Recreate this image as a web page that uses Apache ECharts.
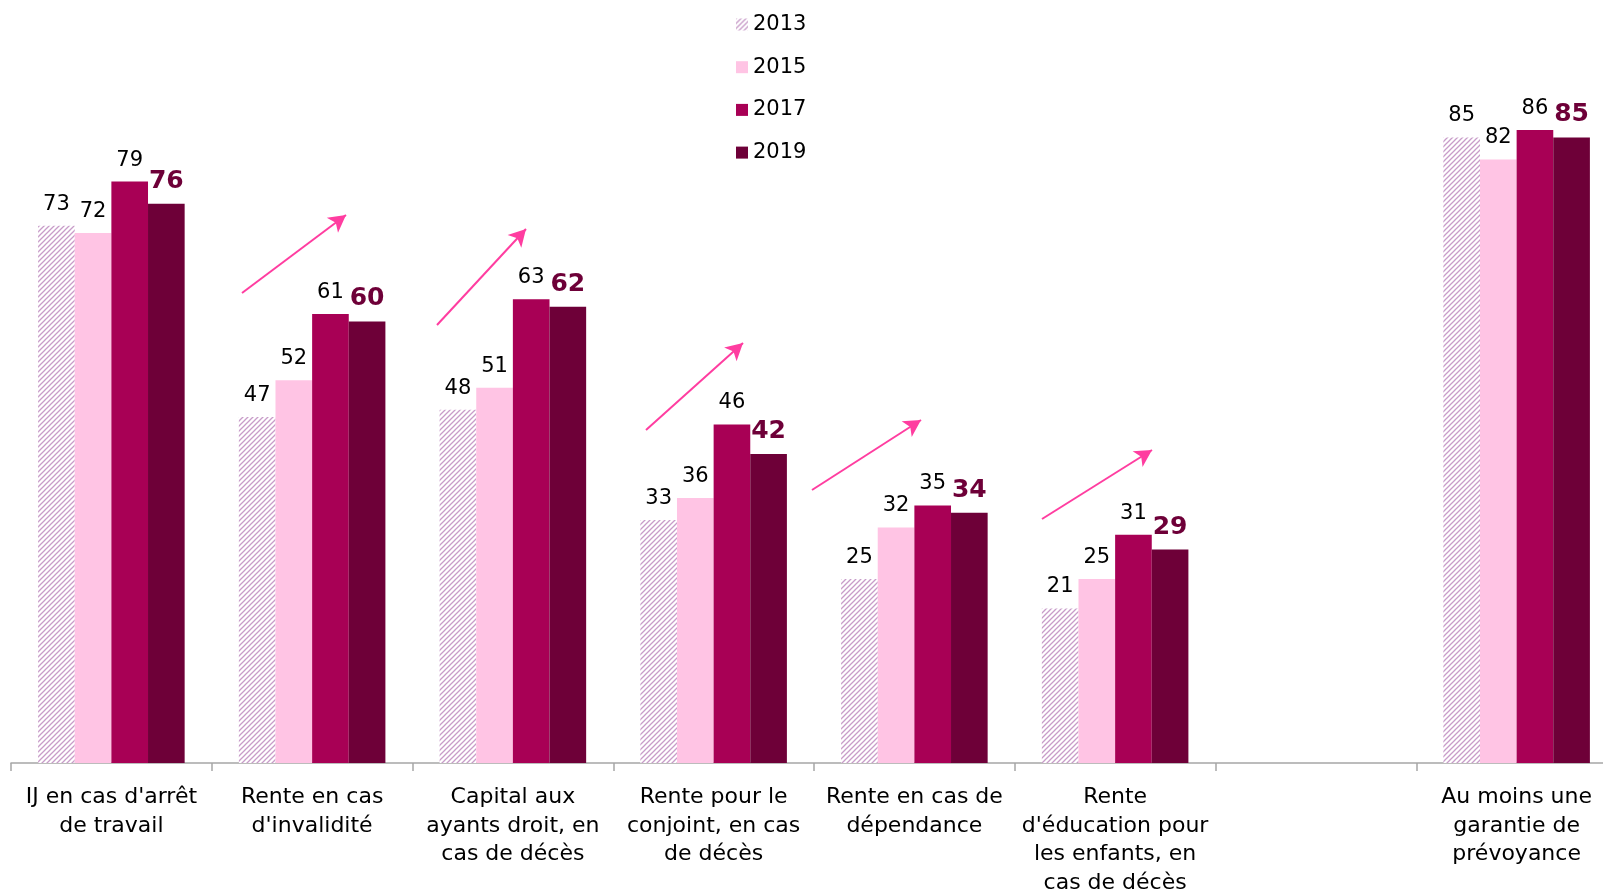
<!DOCTYPE html>
<html>
<head>
<meta charset="utf-8">
<script src="https://cdn.jsdelivr.net/npm/echarts@6/dist/echarts.min.js"></script>
<style>
  html, body { margin: 0; padding: 0; background: #fff; }
  #main { width: 1603px; height: 889px; }
</style>
</head>
<body>
<div id="main"></div>
<script>
var categories = [
    "IJ en cas d'arrêt\nde travail",
    "Rente en cas\nd'invalidité",
    "Capital aux\nayants droit, en\ncas de décès",
    "Rente pour le\nconjoint, en cas\nde décès",
    "Rente en cas de\ndépendance",
    "Rente\nd'éducation pour\nles enfants, en\ncas de décès",
    "",
    "Au moins une\ngarantie de\nprévoyance"
];
var years = ['2013', '2015', '2017', '2019'];
var v2013 = [73, 47, 48, 33, 25, 21, null, 85];
var v2015 = [72, 52, 51, 36, 32, 25, null, 82];
var v2017 = [79, 61, 63, 46, 35, 31, null, 86];
var v2019 = [76, 60, 62, 42, 34, 29, null, 85];
// flèches de tendance (pixels)
var arrows = [
    [[242, 293], [346, 215]],
    [[437, 325], [526, 229]],
    [[646, 430], [743, 343]],
    [[812, 490], [921, 420]],
    [[1042, 519], [1152, 450]]
];

var font = "Verdana, 'DejaVu Sans', sans-serif";

// motif hachuré pour 2013
function hatch() {
    var s = 5;
    var c = document.createElement('canvas');
    c.width = s; c.height = s;
    var ctx = c.getContext('2d');
    ctx.fillStyle = '#fff';
    ctx.fillRect(0, 0, s, s);
    ctx.strokeStyle = '#C89CC9';
    ctx.lineWidth = 1.3;
    ctx.beginPath();
    ctx.moveTo(-1, s + 1); ctx.lineTo(s + 1, -1);
    ctx.moveTo(-1, 1); ctx.lineTo(1, -1);
    ctx.moveTo(s - 1, s + 1); ctx.lineTo(s + 1, s - 1);
    ctx.stroke();
    return { image: c, repeat: 'repeat' };
}

var myChart = echarts.init(document.getElementById('main'));

function serie(name, data, color, bold) {
    return {
        name: name,
        type: 'bar',
        data: data,
        barGap: '0%',
        barCategoryGap: '27%',
        itemStyle: { color: color },
        label: {
            show: true,
            position: 'top',
            distance: bold ? 10 : 11,
            fontFamily: font,
            fontSize: bold ? 25 : 21,
            fontWeight: bold ? 'bold' : 'normal',
            color: bold ? '#6E0038' : '#000'
        }
    };
}

var series = [
    serie(years[0], v2013, hatch(), false),
    serie(years[1], v2015, '#FFC4E4', false),
    serie(years[2], v2017, '#A80055', false),
    serie(years[3], v2019, '#6E0038', true)
];
series[3].markLine = {
    silent: true,
    symbol: ['none', 'arrow'],
    symbolSize: [14, 17],
    label: { show: false },
    lineStyle: { color: '#FF3DA0', width: 2, type: 'solid' },
    animation: false,
    data: arrows.map(function (a) {
        return [{ x: a[0][0], y: a[0][1] }, { x: a[1][0], y: a[1][1] }];
    })
};

var option = {
    animation: false,
    textStyle: { fontFamily: font },
    legend: {
        data: years,
        orient: 'vertical',
        left: 731,
        top: 9,
        icon: 'rect',
        itemWidth: 12,
        itemHeight: 12,
        itemGap: 21.7,
        textStyle: { fontFamily: font, fontSize: 21, color: '#000', lineHeight: 20 }
    },
    // la dernière catégorie déborde à droite du cadre
    grid: {
        left: 11, top: 27, width: 1606, bottom: 126,
        containLabel: false,
        outerBoundsMode: 'none'
    },
    xAxis: {
        type: 'category',
        data: categories,
        axisLine: { lineStyle: { color: '#A6A6A6', width: 1.5 } },
        axisTick: { show: true, length: 8, lineStyle: { color: '#A6A6A6', width: 1.5 } },
        axisLabel: {
            interval: 0,
            margin: 20,
            fontFamily: font,
            fontSize: 22,
            lineHeight: 28.6,
            color: '#000'
        }
    },
    yAxis: {
        type: 'value',
        min: 0,
        max: 100,
        show: false,
        splitLine: { show: false }
    },
    series: series
};
myChart.setOption(option, true);
</script>
</body>
</html>
